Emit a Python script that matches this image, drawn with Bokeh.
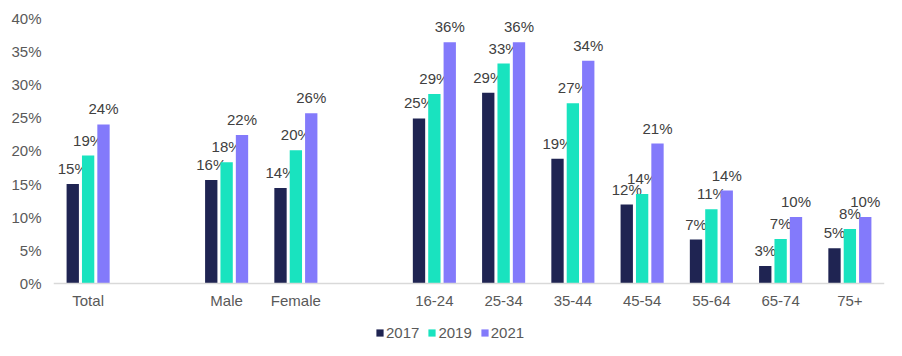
from bokeh.plotting import figure
from bokeh.models import (FactorRange, ColumnDataSource, Legend, LegendItem, FixedTicker,
                          PrintfTickFormatter, Range1d, CategoricalAxis)
from bokeh.transform import dodge
from bokeh.core.properties import value
from bokeh.embed import file_html
from bokeh.resources import INLINE

categories = ["Total", " ", "Male", "Female", "  ", "16-24", "25-34", "35-44", "45-54", "55-64", "65-74", "75+"]
y2017 = [15.0, None, 15.6, 14.4, None, 24.9, 28.8, 18.8, 11.9, 6.6, 2.6, 5.3]
y2019 = [19.3, None, 18.3, 20.1, None, 28.6, 33.2, 27.2, 13.5, 11.2, 6.7, 8.2]
y2021 = [24.0, None, 22.4, 25.7, None, 36.4, 36.4, 33.6, 21.1, 14.0, 10.0, 10.0]
series_names = ["2017", "2019", "2021"]
colors = ["#1F2452", "#19E3BF", "#837AFB"]
y_ticks = [0, 5, 10, 15, 20, 25, 30, 35, 40]

FONT = "Liberation Sans"

p = figure(x_range=FactorRange(*categories), y_range=Range1d(-10.15, 40),
           width=902, height=356, x_axis_location=None,
           min_border_left=53, min_border_right=18, min_border_top=18, min_border_bottom=6,
           output_backend="svg", toolbar_location=None)
p.outline_line_color = None
p.xgrid.grid_line_color = None
p.ygrid.grid_line_color = None

offsets = [-0.222, 0.0, 0.222]
items = []
for name, vals, col, off in zip(series_names, [y2017, y2019, y2021], colors, offsets):
    xs = [c for c, v in zip(categories, vals) if v is not None]
    ys = [v for v in vals if v is not None]
    labels = ["%d%%" % round(v) for v in ys]
    src = ColumnDataSource(dict(x=xs, y=ys, lab=labels))
    r = p.vbar(x=dodge("x", off, range=p.x_range), top="y", width=0.178, source=src,
               fill_color=col, line_color=None)
    p.text(x=dodge("x", off, range=p.x_range), y="y", text="lab", source=src,
           text_align="center", text_baseline="bottom", y_offset=-7,
           text_font=value(FONT), text_font_size="15px", text_color="#404040")
    items.append(LegendItem(label=name, renderers=[r]))

p.yaxis.ticker = FixedTicker(ticks=y_ticks)
p.yaxis.formatter = PrintfTickFormatter(format="%d%%")
p.yaxis.axis_line_color = None
p.yaxis.major_tick_line_color = None
p.yaxis.minor_tick_line_color = None
p.yaxis.major_label_text_font = FONT
p.yaxis.major_label_text_font_size = "15px"
p.yaxis.major_label_text_color = "#595959"
p.yaxis.major_label_standoff = 6

xaxis = CategoricalAxis(fixed_location=0,
                        axis_line_color="#D9D9D9", axis_line_width=1.5,
                        major_tick_line_color=None, minor_tick_line_color=None,
                        major_tick_in=0, major_tick_out=0,
                        major_label_text_font=FONT, major_label_text_font_size="15px",
                        major_label_text_color="#595959", major_label_standoff=9)
p.add_layout(xaxis, "below")

legend = Legend(items=items, orientation="horizontal", location=(322, 9),
                label_text_font=FONT, label_text_font_size="15px", label_text_color="#595959",
                glyph_width=9, glyph_height=9, label_standoff=2, spacing=8,
                border_line_color=None, background_fill_color=None, background_fill_alpha=0,
                padding=0, margin=0)
p.add_layout(legend, "center")

open("out.html", "w").write(file_html(p, INLINE))
